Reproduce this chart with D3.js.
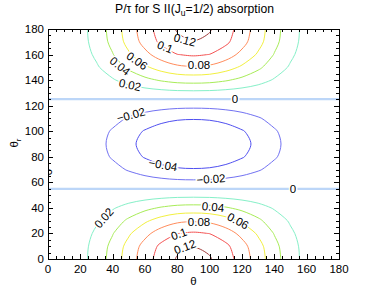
<!DOCTYPE html>
<html><head><meta charset="utf-8">
<script src="https://cdn.jsdelivr.net/npm/d3@7"></script>
<style>
html,body{margin:0;padding:0;background:#fff;}
svg{display:block;font-family:"Liberation Sans",Arial,Helvetica,sans-serif;}
</style></head>
<body>
<svg id="chart" width="374" height="291"></svg>
<script>
// ---- data ----
const thetaDeg  = [0,10,20,30,40,50,60,70,80,90,100,110,120,130,140,150,160,170,180];
const thetaRDeg = [0,10,20,30,40,50,60,70,80,90,100,110,120,130,140,150,160,170,180];
// P/tau along theta at theta_r = 0 (pole)
const poleProfile = [0.0002,0.0036,0.0133,0.0284,0.0476,0.0700,0.0910,0.1090,0.1215,0.1250,0.1215,0.1090,0.0910,0.0700,0.0476,0.0284,0.0133,0.0036,0.0002];
// P/tau along theta_r at theta = 90
const equatorProfile = [0.125,0.1195,0.1025,0.078,0.048,0.0145,-0.0155,-0.0385,-0.057,-0.063,-0.057,-0.0385,-0.0155,0.0145,0.048,0.078,0.1025,0.1195,0.125];
const peakValue = 0.125;
const levels = [-0.04,-0.02,0,0.02,0.04,0.06,0.08,0.1,0.12];
const levelText = ["\u22120.04","\u22120.02","0","0.02","0.04","0.06","0.08","0.1","0.12"];
const xTicks = [0,20,40,60,80,100,120,140,160,180];
const yTicks = [0,20,40,60,80,100,120,140,160,180];
// contour labels: level, theta, theta_r
const labelLevels = [0.12,0.1,0.08,0.06,0.04,0.02,0,-0.02,-0.04,-0.02,0,0.02,0.04,0.06,0.08,0.1,0.12,0];
const labelTheta  = [84.7,72.4,93.4,55.1,44.5,50.7,115.7,51.3,71.1,100.8,151.5,34.6,102.1,117.5,93.4,81,84.7,0.3];
const labelThetaR = [171.4,165.9,151.8,155,151,136.2,125.2,112.7,73.6,62.6,54.8,32.1,40.7,29.7,29,19.6,9.4,68];

// ---- styles ----
const levelColor = {"-0.04":"#5050f0","-0.02":"#7272f2","0":"#bcd6f8","0.02":"#86f0c8","0.04":"#a8ec58","0.06":"#f2f040","0.08":"#ff8c5c","0.1":"#f45050","0.12":"#a03a3a"};
const labelAngle = [15,22,0,35,38,12,0,-15,10,-4,0,-48,5,28,0,-20,-20,-90];

const svg = d3.select("#chart");
const pLeft = 48, pRight = 339, pTop = 29, pBottom = 259;
const x = d3.scaleLinear().domain([0,180]).range([pLeft,pRight]);
const y = d3.scaleLinear().domain([0,180]).range([pBottom,pTop]);

// grid table
const nx = thetaDeg.length, ny = thetaRDeg.length;
const values = new Array(nx*ny);
for (let j=0;j<ny;j++) for (let i=0;i<nx;i++) values[j*nx+i] = poleProfile[i]*equatorProfile[j]/peakValue;

const contours = d3.contours().size([nx,ny]).thresholds(levels)(values);
const gx = d3.scaleLinear().domain([0.5, nx-0.5]).range([thetaDeg[0], thetaDeg[nx-1]]);
const gy = d3.scaleLinear().domain([0.5, ny-0.5]).range([thetaRDeg[0], thetaRDeg[ny-1]]);
const eps = 1e-6;
function isInside(p){ return p[0]>eps && p[0]<180-eps && p[1]>eps && p[1]<180-eps; }

function pieces(ring){
  let pts = ring.slice(0,-1).map(p=>[gx(p[0]),gy(p[1])]);
  const ins = pts.map(isInside);
  if (ins.every(v=>v)) return [{closed:true,pts}];
  const k = ins.findIndex(v=>!v);
  pts = pts.slice(k).concat(pts.slice(0,k));
  const inn = pts.map(isInside);
  const out=[]; let cur=[];
  const n=pts.length;
  for (let s=0;s<n;s++){
    const a=s, b=(s+1)%n;
    if (inn[a]||inn[b]){ if(!cur.length) cur.push(pts[a]); cur.push(pts[b]); }
    else { if(cur.length>1) out.push({closed:false,pts:cur}); cur=[]; }
  }
  if(cur.length>1) out.push({closed:false,pts:cur});
  return out;
}
function clampPt(p){ return [Math.max(0,Math.min(180,p[0])), Math.max(0,Math.min(180,p[1]))]; }

const lineOpen = d3.line().x(d=>x(d[0])).y(d=>y(d[1])).curve(d3.curveCatmullRom.alpha(0.5));
const lineClosed = d3.line().x(d=>x(d[0])).y(d=>y(d[1])).curve(d3.curveCatmullRomClosed.alpha(0.5));

svg.append("clipPath").attr("id","plotclip").append("rect")
  .attr("x",pLeft).attr("y",pTop).attr("width",pRight-pLeft).attr("height",pBottom-pTop);
const cg = svg.append("g").attr("clip-path","url(#plotclip)");
contours.forEach(c=>{
  const key = String(+c.value.toFixed(2));
  c.coordinates.forEach(poly=>poly.forEach(ring=>{
    pieces(ring).forEach(pc=>{
      const pts = pc.closed ? pc.pts : pc.pts.map(clampPt);
      cg.append("path")
        .attr("d", pc.closed ? lineClosed(pts) : lineOpen(pts))
        .attr("fill","none")
        .attr("stroke", levelColor[key])
        .attr("stroke-width", c.value===0 ? 2.2 : 1);
    });
  }));
});

// frame
svg.append("rect").attr("x",pLeft+0.5).attr("y",pTop+0.5).attr("width",pRight-pLeft).attr("height",pBottom-pTop)
  .attr("fill","none").attr("stroke","#000").attr("stroke-width",1);

// contour labels (clipped to the plot box)
const lg = svg.append("g").attr("clip-path","url(#plotclip)");
labelLevels.forEach((lv,i)=>{
  const idx = levels.indexOf(lv);
  lg.append("text")
    .attr("transform",`translate(${x(labelTheta[i])},${y(labelThetaR[i])}) rotate(${labelAngle[i]})`)
    .attr("text-anchor","middle").attr("dominant-baseline","central")
    .attr("font-size",11.5)
    .attr("fill","#000").attr("stroke","#fff").attr("stroke-width",labelAngle[i]===-90?0:3)
    .attr("paint-order","stroke")
    .text(levelText[idx]);
});

// ticks (inward)
const major=5, minor=3;
const minorX = d3.range(0,181,5).filter(v=>v%20!==0);
const minorY = d3.range(0,181,5).filter(v=>v%20!==0);
const tg = svg.append("g").attr("stroke","#000").attr("stroke-width",1);
function xt(vals,len){ vals.forEach(v=>{
  const px = Math.round(x(v))+0.5;
  tg.append("line").attr("x1",px).attr("x2",px).attr("y1",pBottom).attr("y2",pBottom-len);
  tg.append("line").attr("x1",px).attr("x2",px).attr("y1",pTop).attr("y2",pTop+len);
});}
function yt(vals,len){ vals.forEach(v=>{
  const py = Math.round(y(v))+0.5;
  tg.append("line").attr("y1",py).attr("y2",py).attr("x1",pLeft).attr("x2",pLeft+len);
  tg.append("line").attr("y1",py).attr("y2",py).attr("x1",pRight).attr("x2",pRight-len);
});}
xt(xTicks,major); xt(minorX,minor); yt(yTicks,major); yt(minorY,minor);

// tick labels
svg.append("g").selectAll("text").data(xTicks).join("text")
  .attr("x",d=>x(d)).attr("y",273).attr("text-anchor","middle").attr("font-size",11.5).text(d=>d);
svg.append("g").selectAll("text").data(yTicks).join("text")
  .attr("x",44).attr("y",d=>y(d)+4).attr("text-anchor","end").attr("font-size",11.5).text(d=>d);

// axis titles
svg.append("text").attr("x",(pLeft+pRight)/2).attr("y",285).attr("text-anchor","middle").attr("font-size",11.5).text("\u03b8");
const yl = svg.append("text").attr("transform","translate(18,143) rotate(-90)").attr("text-anchor","middle").attr("font-size",11.5);
yl.append("tspan").text("\u03b8");
yl.append("tspan").attr("dy",3).attr("font-size",8).text("r");

// title
const tt = svg.append("text").attr("x",(pLeft+pRight)/2+1).attr("y",13).attr("text-anchor","middle").attr("font-size",12.2);
tt.append("tspan").text("P/\u03c4 for S II(J");
tt.append("tspan").attr("dy",3).attr("font-size",8.5).text("u");
tt.append("tspan").attr("dy",-3).text("=1/2) absorption");
</script>
</body></html>
